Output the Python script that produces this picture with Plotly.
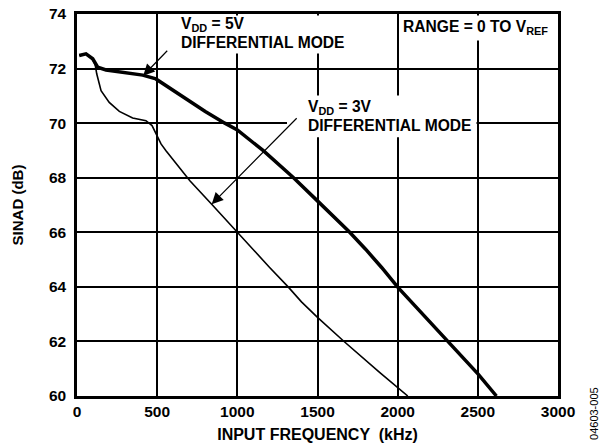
import plotly.graph_objects as go

# ---- data ----
freq_5v = [14, 56, 98, 129, 181, 300, 410, 492, 617, 700, 800, 922, 1000, 1162,
           1349, 1498, 1600, 1698, 1800, 1900, 2003, 2315, 2502, 2616]
sinad_5v = [72.48, 72.54, 72.36, 72.05, 71.95, 71.86, 71.76, 71.62, 71.13, 70.8,
            70.43, 70.0, 69.75, 68.99, 68.01, 67.16, 66.6, 66.02, 65.38, 64.71,
            63.97, 62.0, 60.8, 60.0]

freq_3v = [14, 56, 98, 114, 123, 150, 201, 264, 347, 430, 468, 492, 524, 555,
           704, 840, 1000, 1200, 1317, 1400, 1500, 1671, 1889, 2063]
sinad_3v = [72.48, 72.54, 72.36, 72.12, 71.81, 71.19, 70.76, 70.43, 70.19, 70.09,
            69.91, 69.60, 69.24, 68.99, 67.89, 67.03, 65.99, 64.72, 64.0, 63.45,
            62.88, 61.97, 60.86, 60.0]

x_ticks = [0, 500, 1000, 1500, 2000, 2500, 3000]
y_ticks = [60, 62, 64, 66, 68, 70, 72, 74]

# ---- layout helpers ----
W, H = 605, 447
L, R, T, B = 77, 558, 13.5, 396


def px(x):
    return (x - L) / (R - L)


def py(y):
    return (B - y) / (B - T)


FONT = "Liberation Sans, Arial, sans-serif"

fig = go.Figure()
fig.add_trace(go.Scatter(x=freq_5v, y=sinad_5v, mode="lines",
                         line=dict(color="black", width=3.5),
                         name="VDD = 5V", showlegend=False))
fig.add_trace(go.Scatter(x=freq_3v, y=sinad_3v, mode="lines",
                         line=dict(color="black", width=1.6),
                         name="VDD = 3V", showlegend=False))

# white boxes behind the annotation texts (hide gridlines)
for x0, x1, y0, y1 in [(172, 352, T + 1.5, 53), (287, 476.5, 95, 137), (399, 556.5, T + 1.5, 40)]:
    fig.add_shape(type="rect", xref="paper", yref="paper",
                  x0=px(x0), x1=px(x1), y0=py(y1), y1=py(y0),
                  fillcolor="white", line=dict(width=0), layer="above")

tfont = dict(family=FONT, size=15.6, color="black", weight="bold")
texts = [
    ("V<sub>DD</sub> = 5V", 179, 24),
    ("DIFFERENTIAL MODE", 179, 42.5),
    ("V<sub>DD</sub> = 3V", 306, 107.5),
    ("DIFFERENTIAL MODE", 306, 125.5),
    ("RANGE = 0 TO V<sub>REF</sub>", 401, 27),
]
for t, x, y in texts:
    fig.add_annotation(text=t, xref="paper", yref="paper", x=px(x), y=py(y),
                       xanchor="left", yanchor="middle", showarrow=False, font=tfont)

# arrows
for xt, yt, ax, ay in [(413, 71.74, 27, -28), (840, 67.03, 88, -89)]:
    fig.add_annotation(x=xt, y=yt, xref="x", yref="y", ax=ax, ay=ay, text=" ",
                       showarrow=True, arrowhead=2, arrowsize=1.9, arrowwidth=1.2,
                       arrowcolor="black")

fig.add_annotation(text="04603-005", xref="paper", yref="paper", x=px(594), y=py(414),
                   xanchor="center", yanchor="middle",
                   showarrow=False, textangle=-90,
                   font=dict(family=FONT, size=11, color="black"))

axis_common = dict(showgrid=True, gridcolor="black", gridwidth=1.8,
                   showline=True, linecolor="black", linewidth=2.5, mirror=True,
                   zeroline=False, ticks="", automargin=False,
                   tickfont=dict(family=FONT, size=15.5, color="black", weight="bold"))

fig.update_layout(
    width=W, height=H,
    margin=dict(l=L, r=W - R, t=T, b=H - B, pad=0, autoexpand=False),
    paper_bgcolor="white", plot_bgcolor="white",
    xaxis=dict(range=[0, 3000], tickvals=x_ticks, ticktext=[str(v) for v in x_ticks],
               title=dict(text="INPUT FREQUENCY &nbsp;(kHz)", standoff=10,
                          font=dict(family=FONT, size=16, color="black", weight="bold")),
               **axis_common),
    yaxis=dict(range=[60, 74], tickvals=y_ticks, ticktext=[str(v) for v in y_ticks],
               ticklabelstandoff=5,
               title=dict(text="SINAD (dB)", standoff=22,
                          font=dict(family=FONT, size=15, color="black", weight="bold")),
               **axis_common),
)

fig.write_html("out.html", config={"displayModeBar": False},
               post_script="document.body.style.margin='0';document.body.style.padding='0';")
